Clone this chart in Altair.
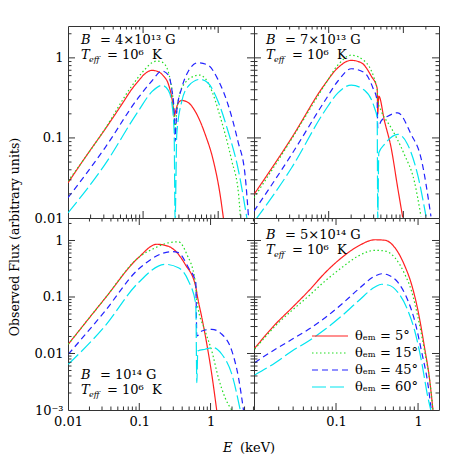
import altair as alt
import pandas as pd

SERIES = ["θₑₘ = 5°", "θₑₘ = 15°", "θₑₘ = 45°", "θₑₘ = 60°"]
COLORS = ["#ff2020", "#22dd22", "#2222ff", "#00e5f0"]
DASHES = [[1, 0], [1.5, 2.5], [6, 4], [14, 4]]

# ---- top-left: B = 4e13 G ----
TL_RED_E = [0.01, 0.0187, 0.0311, 0.052, 0.0706, 0.0865, 0.106, 0.131, 0.16, 0.187, 0.217, 0.241, 0.254, 0.261, 0.271, 0.296, 0.328, 0.402, 0.52, 0.671, 0.865, 1.06, 1.18]
TL_RED_F = [0.0275, 0.0652, 0.128, 0.262, 0.405, 0.514, 0.634, 0.698, 0.671, 0.593, 0.471, 0.318, 0.23, 0.187, 0.217, 0.275, 0.294, 0.275, 0.197, 0.111, 0.0514, 0.0197, 0.0096]
TL_GRN_E = [0.01, 0.0311, 0.0706, 0.106, 0.131, 0.152, 0.178, 0.207, 0.229, 0.249, 0.261, 0.267, 0.281, 0.311, 0.363, 0.446, 0.563, 0.671, 0.824, 1.01, 1.24, 1.52, 1.87, 1.98]
TL_GRN_F = [0.0289, 0.13, 0.445, 0.719, 0.869, 0.912, 0.887, 0.753, 0.539, 0.318, 0.163, 0.133, 0.217, 0.366, 0.488, 0.575, 0.61, 0.554, 0.385, 0.217, 0.111, 0.0514, 0.0197, 0.01]
TL_BLU_E = [0.01, 0.0311, 0.0865, 0.131, 0.178, 0.217, 0.241, 0.259, 0.267, 0.281, 0.328, 0.402, 0.536, 0.728, 0.991, 1.35, 1.83, 2.29, 2.54]
TL_BLU_F = [0.0179, 0.0753, 0.318, 0.514, 0.685, 0.61, 0.405, 0.217, 0.0914, 0.217, 0.424, 0.685, 0.869, 0.815, 0.539, 0.262, 0.0914, 0.0333, 0.01]
TL_CYN_E = [0.01, 0.0311, 0.0865, 0.131, 0.178, 0.217, 0.241, 0.259, 0.267, 0.281, 0.328, 0.402, 0.575, 0.728, 0.991, 1.35, 1.83, 2.41]
TL_CYN_F = [0.0116, 0.0467, 0.217, 0.378, 0.454, 0.393, 0.275, 0.122, 0.0095, 0.111, 0.289, 0.445, 0.539, 0.488, 0.289, 0.122, 0.0424, 0.01]

# ---- top-right: B = 7e13 G ----
TR_RED_E = [0.01, 0.0319, 0.0885, 0.133, 0.201, 0.273, 0.371, 0.446, 0.454, 0.469, 0.558, 0.686, 0.84, 0.98]
TR_RED_F = [0.0197, 0.1, 0.467, 0.753, 0.931, 0.869, 0.593, 0.416, 0.199, 0.333, 0.163, 0.0753, 0.0238, 0.0102]
TR_GRN_E = [0.01, 0.0319, 0.0885, 0.133, 0.201, 0.302, 0.41, 0.446, 0.454, 0.505, 0.686, 1.03, 1.4, 1.72]
TR_GRN_F = [0.0179, 0.0968, 0.457, 0.815, 1.08, 0.912, 0.543, 0.405, 0.289, 0.217, 0.134, 0.0622, 0.0289, 0.0105]
TR_BLU_E = [0.01, 0.0319, 0.0885, 0.133, 0.201, 0.302, 0.39, 0.446, 0.454, 0.505, 0.618, 0.84, 1.27, 1.72, 2.34]
TR_BLU_F = [0.0122, 0.0622, 0.289, 0.514, 0.731, 0.652, 0.424, 0.289, 0.134, 0.163, 0.187, 0.206, 0.111, 0.0565, 0.0105]
TR_CYN_E = [0.0105, 0.0319, 0.0885, 0.133, 0.201, 0.302, 0.41, 0.446, 0.454, 0.469, 0.558, 0.84, 1.14, 1.55, 2.01]
TR_CYN_F = [0.0095, 0.0424, 0.217, 0.366, 0.457, 0.393, 0.238, 0.179, 0.0095, 0.0652, 0.083, 0.111, 0.083, 0.035, 0.0105]

# ---- bottom-left: B = 1e14 G ----
BL_RED_E = [0.0101, 0.0331, 0.097, 0.176, 0.256, 0.44, 0.621, 0.662, 0.755, 0.887, 1.04, 1.22]
BL_RED_F = [0.0146, 0.0948, 0.496, 0.857, 0.789, 0.379, 0.15, 0.0948, 0.043, 0.0146, 0.00429, 0.00099]
BL_GRN_E = [0.0101, 0.0331, 0.097, 0.167, 0.256, 0.354, 0.465, 0.608, 0.642, 0.84, 1.04, 1.29, 1.6, 1.99]
BL_GRN_F = [0.0146, 0.0948, 0.496, 0.741, 0.91, 0.948, 0.569, 0.192, 0.085, 0.025, 0.0111, 0.0037, 0.00165, 0.00099]
BL_BLU_E = [0.0101, 0.0331, 0.097, 0.286, 0.354, 0.49, 0.621, 0.642, 0.755, 1.04, 1.44, 1.99, 2.47, 2.9]
BL_BLU_F = [0.0097, 0.0565, 0.309, 0.634, 0.608, 0.33, 0.179, 0.0204, 0.025, 0.0268, 0.0219, 0.0111, 0.0037, 0.00099]
BL_CYN_E = [0.0101, 0.0331, 0.097, 0.23, 0.354, 0.49, 0.621, 0.642, 0.662, 0.84, 1.1, 1.44, 1.99, 2.61]
BL_CYN_F = [0.00644, 0.0307, 0.179, 0.379, 0.33, 0.192, 0.0743, 0.00304, 0.0111, 0.0119, 0.0127, 0.0097, 0.00429, 0.00099]

# ---- bottom-right: B = 5e14 G ----
BR_RED_E = [0.0102, 0.0182, 0.0291, 0.0463, 0.0737, 0.117, 0.187, 0.298, 0.394, 0.522, 0.69, 0.832, 1.0, 1.2, 1.39, 1.52]
BR_RED_F = [0.0124, 0.0329, 0.0646, 0.128, 0.269, 0.496, 0.798, 1.03, 1.01, 0.745, 0.353, 0.168, 0.0565, 0.0127, 0.00326, 0.00099]
BR_GRN_E = [0.0102, 0.0182, 0.0291, 0.0463, 0.0737, 0.117, 0.187, 0.298, 0.394, 0.522, 0.69, 0.832, 1.0, 1.2, 1.39, 1.52]
BR_GRN_F = [0.0119, 0.0307, 0.058, 0.104, 0.192, 0.33, 0.532, 0.671, 0.652, 0.496, 0.252, 0.128, 0.043, 0.0111, 0.00326, 0.00099]
BR_BLU_E = [0.0102, 0.0182, 0.0291, 0.0463, 0.0737, 0.117, 0.187, 0.298, 0.36, 0.433, 0.572, 0.756, 0.912, 1.1, 1.32, 1.45]
BR_BLU_F = [0.00687, 0.0119, 0.0178, 0.0268, 0.043, 0.0743, 0.137, 0.235, 0.258, 0.245, 0.179, 0.085, 0.0376, 0.0111, 0.00285, 0.00099]
BR_CYN_E = [0.0102, 0.0182, 0.0291, 0.0463, 0.0737, 0.117, 0.187, 0.298, 0.36, 0.433, 0.572, 0.756, 0.912, 1.1, 1.32, 1.43]
BR_CYN_F = [0.00416, 0.00687, 0.0111, 0.0167, 0.0268, 0.0461, 0.085, 0.15, 0.168, 0.163, 0.119, 0.0565, 0.025, 0.00736, 0.00165, 0.00099]

CURVES = {
    "TL": [(TL_RED_E, TL_RED_F), (TL_GRN_E, TL_GRN_F), (TL_BLU_E, TL_BLU_F), (TL_CYN_E, TL_CYN_F)],
    "TR": [(TR_RED_E, TR_RED_F), (TR_GRN_E, TR_GRN_F), (TR_BLU_E, TR_BLU_F), (TR_CYN_E, TR_CYN_F)],
    "BL": [(BL_RED_E, BL_RED_F), (BL_GRN_E, BL_GRN_F), (BL_BLU_E, BL_BLU_F), (BL_CYN_E, BL_CYN_F)],
    "BR": [(BR_RED_E, BR_RED_F), (BR_GRN_E, BR_GRN_F), (BR_BLU_E, BR_BLU_F), (BR_CYN_E, BR_CYN_F)],
}

rows = []
for p, curves in CURVES.items():
    for s, (es, fs) in zip(SERIES, curves):
        for i, (e, f) in enumerate(zip(es, fs)):
            rows.append({"panel": p, "series": s, "i": i, "E": e, "F": f})
df = pd.DataFrame(rows)

FONT = "DejaVu Serif"
FRAME = "#333333"
H = 192
LBL = "datum.value < 0.005 ? '10⁻³' : format(datum.value, '~g')"

# line symbol: small nominal size (keeps rows tight) but a long drawn stroke
LEG = alt.Legend(title=None, orient="none", legendX=243, legendY=303,
                 symbolType="M-1,0H5", symbolSize=144, symbolStrokeWidth=1.2,
                 symbolFillColor="transparent",
                 labelFont=FONT, labelFontSize=13, labelColor="black",
                 labelOffset=30, rowPadding=3, padding=0)


def log_ticks(lo, hi):
    major, minor = [], []
    for n in range(-4, 2):
        for k in range(1, 10):
            v = round(k * 10 ** n, 8)
            if lo * 1.001 < v < hi / 1.001:
                (major if k == 1 else minor).append(v)
    return major, minor


def panel(key, W, xdom, ydom, xlabels, ylabels, notes):
    xs = alt.Scale(type="log", domain=xdom, nice=False)
    ys = alt.Scale(type="log", domain=ydom, nice=False)
    ax_common = dict(title=None, ticks=False, domain=False, grid=False, labelFont=FONT,
                     labelFontSize=13, labelColor="black", labelExpr=LBL, labelOverlap=False)
    xax = alt.Axis(values=xlabels, labelFlush=False, labelPadding=5, **ax_common) if xlabels else None
    yax = alt.Axis(values=ylabels, labelPadding=5, **ax_common) if ylabels else None

    lines = alt.Chart(df[df.panel == key]).mark_line(clip=True, strokeWidth=1.2, interpolate="monotone").encode(
        x=alt.X("E:Q", scale=xs, axis=xax),
        y=alt.Y("F:Q", scale=ys, axis=yax),
        color=alt.Color("series:N", scale=alt.Scale(domain=SERIES, range=COLORS), legend=LEG),
        strokeDash=alt.StrokeDash("series:N", scale=alt.Scale(domain=SERIES, range=DASHES), legend=LEG),
        order="i:Q",
    )
    layers = [lines]
    xmaj, xmin = log_ticks(*xdom)
    ymaj, ymin = log_ticks(*ydom)
    for vals, L in ((xmaj, 7), (xmin, 3.5)):
        tdf = pd.DataFrame({"v": vals})
        for y0, y1 in ((H, H - L), (0, L)):
            layers.append(alt.Chart(tdf).mark_rule(color=FRAME, strokeWidth=1).encode(
                x=alt.X("v:Q", scale=xs, axis=xax), y=alt.value(y0), y2=alt.value(y1)))
    for vals, L in ((ymaj, 7), (ymin, 3.5)):
        tdf = pd.DataFrame({"v": vals})
        for x0, x1 in ((0, L), (W, W - L)):
            layers.append(alt.Chart(tdf).mark_rule(color=FRAME, strokeWidth=1).encode(
                y=alt.Y("v:Q", scale=ys, axis=yax), x=alt.value(x0), x2=alt.value(x1)))
    for t, x, y, size, style, angle in notes:
        layers.append(alt.Chart(pd.DataFrame({"t": [t]})).mark_text(
            align="left" if angle == 0 else "center",
            baseline="alphabetic" if angle == 0 else "middle",
            font=FONT, fontSize=size, fontStyle=style, color="black", angle=angle).encode(
            x=alt.value(x), y=alt.value(y), text="t:N"))
    return alt.layer(*layers).properties(width=W, height=H)


def b_notes(btext, x0, y0):
    return [
        ("B", x0, y0, 13, "italic", 0),
        ("=\u00a0" + btext + "\u00a0G", x0 + 19, y0, 13, "normal", 0),
        ("T", x0, y0 + 15, 13, "italic", 0),
        ("eff", x0 + 8, y0 + 18, 8, "italic", 0),
        ("=\u00a010⁶\u00a0\u00a0K", x0 + 26, y0 + 15, 13, "normal", 0),
    ]


TOP_Y = [0.01, 2.5]
BOT_Y = [0.001, 2.5]

tl = panel("TL", 186, [0.01, 3.0], TOP_Y, None, [0.01, 0.1, 1],
           b_notes("4×10¹³", 13, 18) + [("Observed Flux (arbitrary units)", -53.5, H + 19, 12.5, "normal", 270)])
tr = panel("TR", 185, [0.01, 3.0], TOP_Y, None, None, b_notes("7×10¹³", 12, 18))
bl = panel("BL", 186, [0.01, 4.07], BOT_Y, [0.01, 0.1, 1], [0.001, 0.01, 0.1, 1],
           b_notes("10¹⁴", 13, 161) + [("E", 155, 234, 13, "italic", 0), ("(keV)", 172, 234, 13, "normal", 0)])
br = panel("BR", 185, [0.01, 1.8], BOT_Y, [0.1, 1], None, b_notes("5×10¹⁴", 12, 21))

chart = alt.concat(tl, tr, bl, br, columns=2, spacing=0, bounds="flush").resolve_scale(
    x="independent", y="independent", color="shared", strokeDash="shared"
).properties(
    padding={"left": 0, "top": 17, "right": 5, "bottom": 0}
).configure_view(stroke=FRAME, strokeWidth=1)

chart.save("out.html", embed_options={"renderer": "svg", "actions": False})
